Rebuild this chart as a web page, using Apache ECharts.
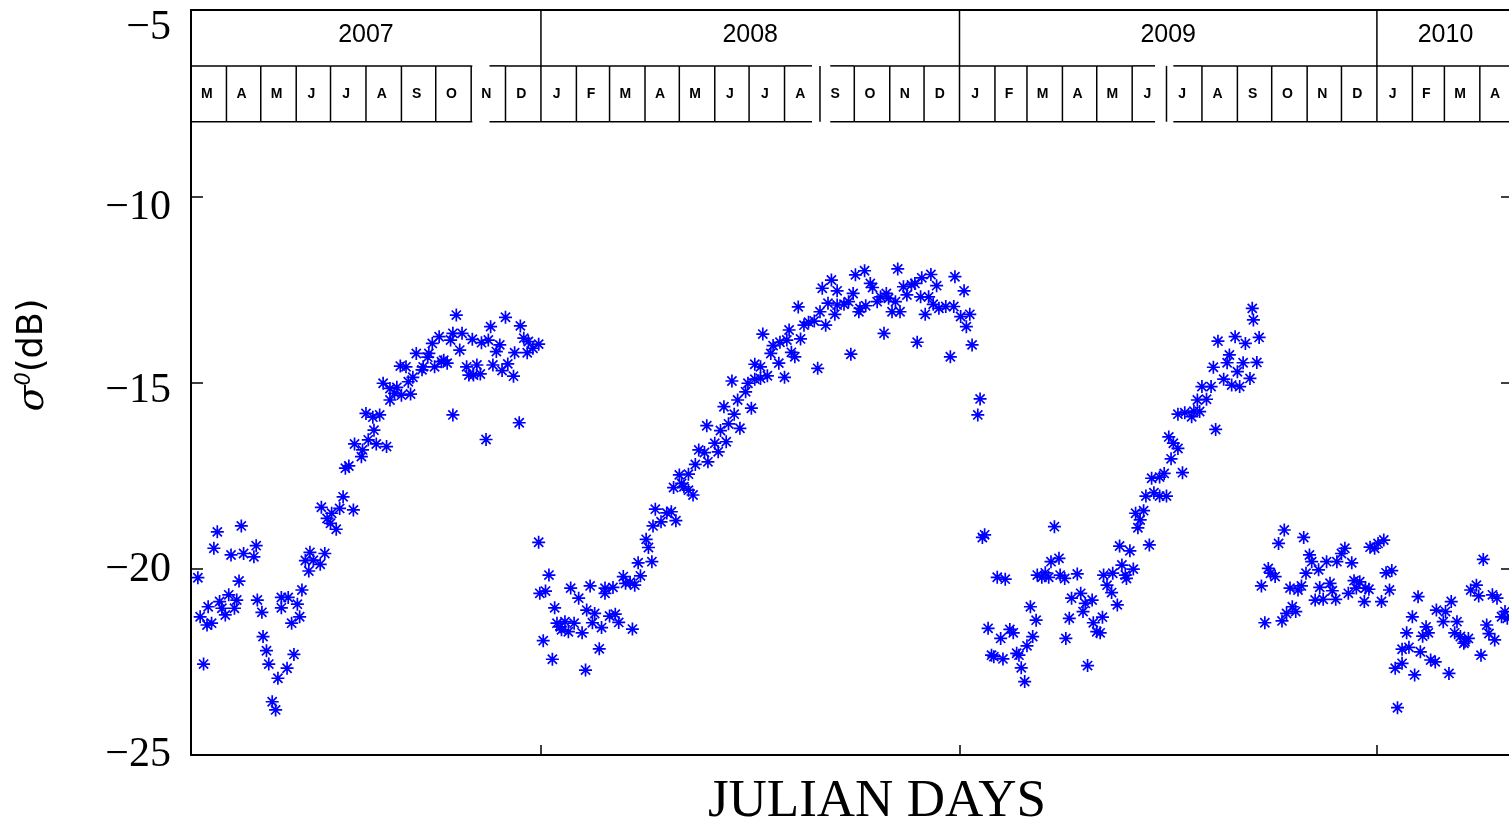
<!DOCTYPE html>
<html>
<head>
<meta charset="utf-8">
<title>sigma0 time series</title>
<script src="https://cdn.jsdelivr.net/npm/echarts@6/dist/echarts.min.js"></script>
<style>
    html, body { margin: 0; padding: 0; background: #fff; }
    #chart { width: 1509px; height: 824px; }
</style>
</head>
<body>
<div id="chart"></div>
<script>
// julian day counted from 1 Jan 2007 (= 0), sigma0 in dB
var season07 = [
    [82,-19.01],[103,-18.85],[79,-19.45],[94,-19.63],[105,-19.59],[116,-19.38],[114,-19.68],[65,-20.24],[101,-20.33],[92,-20.70],
    [84,-20.88],[99,-20.84],[74,-21.02],[86,-21.06],[97,-21.06],[89,-21.24],[67,-21.29],[73,-21.51],[77,-21.46],[117,-20.84],
    [121,-21.17],[70,-22.56],[122,-21.82],[125,-22.20],[127,-22.56],[135,-22.94],[130,-23.57],[133,-23.79],[143,-22.67],[149,-22.30],
    [138,-20.77],[144,-20.77],[138,-21.05],[152,-20.95],[156,-20.57],[154,-21.29],[147,-21.46],[163,-19.56],[159,-19.78],[166,-19.77],
    [176,-19.59],[172,-19.88],[162,-20.06],[173,-18.35],[182,-18.51],[189,-18.38],[201,-18.42],[178,-18.65],[181,-18.78],[186,-18.94],
    [192,-18.07],[194,-17.30],[197,-17.24],[208,-16.99],[209,-16.81],[202,-16.65],[214,-16.54],[221,-16.65],[230,-16.72],[219,-16.28],
    [212,-15.83],[218,-15.93],[224,-15.87],[227,-15.02],[233,-15.16],[239,-15.13],[237,-15.29],[233,-15.47],[243,-15.34],[251,-15.31],
    [249,-14.98],[253,-14.86],[242,-14.56],[247,-14.58],[261,-14.66],[262,-14.58],[256,-14.22],[267,-14.22],[266,-14.32],[270,-13.95],
    [276,-13.77],[272,-14.58],[278,-14.44],[283,-14.48],[280,-14.40],[286,-13.86],[288,-13.68],[296,-13.68],[291,-13.19],[294,-14.13],
    [305,-13.84],[313,-13.93],[319,-13.86],[329,-13.99],[326,-14.17],[321,-13.50],[334,-13.25],[347,-13.48],[350,-13.81],[354,-13.90],
    [358,-14.08],[342,-14.20],[353,-14.20],[300,-14.58],[309,-14.53],[302,-14.80],[312,-14.77],[306,-14.80],[323,-14.53],[336,-14.50],
    [331,-14.68],[341,-14.83],[288,-15.87],[317,-16.53],[346,-16.08],[363,-13.97]
];
var season08 = [
    [363,-19.29],[372,-20.17],[364,-20.66],[369,-20.60],[391,-20.52],[408,-20.46],[398,-20.79],[377,-21.05],[405,-21.11],[412,-21.20],
    [379,-21.46],[386,-21.42],[394,-21.46],[383,-21.64],[389,-21.69],[382,-21.56],[401,-21.72],[410,-21.45],[418,-21.58],[425,-21.27],
    [430,-21.22],[433,-21.44],[445,-21.62],[367,-21.93],[375,-22.43],[416,-22.15],[404,-22.72],[421,-20.52],[421,-20.66],[428,-20.50],
    [437,-20.21],[439,-20.39],[443,-20.36],[447,-20.44],[452,-20.19],[450,-19.84],[462,-19.81],[457,-19.21],[459,-19.43],[465,-18.40],
    [463,-18.85],[470,-18.74],[475,-18.50],[479,-18.47],[483,-18.71],[481,-17.82],[486,-17.48],[490,-17.80],[494,-17.46],[498,-18.02],
    [494,-17.89],[488,-17.71],[500,-17.20],[503,-16.81],[508,-16.88],[511,-17.13],[517,-16.63],[520,-16.86],[527,-16.59],[510,-16.16],
    [522,-16.29],[529,-16.11],[539,-16.23],[525,-15.65],[534,-15.85],[537,-15.47],[549,-15.69],[532,-14.96],[544,-15.25],[546,-15.02],
    [552,-14.91],[557,-14.89],[552,-14.51],[557,-14.58],[559,-13.70],[563,-14.82],[573,-14.48],[578,-14.86],[607,-14.62],[566,-14.22],
    [568,-14.01],[574,-13.92],[580,-13.86],[584,-14.19],[587,-14.31],[592,-13.83],[582,-13.59],[595,-13.46],[599,-13.38],[604,-13.35],
    [614,-13.46],[590,-12.97],[609,-13.10],[616,-12.87],[622,-13.17],[624,-12.92],[630,-12.90],[634,-12.83],[638,-12.61],[624,-12.54],
    [611,-12.47],[619,-12.25],[640,-12.11],[648,-12.00],[644,-13.01],[643,-13.10],[649,-12.94],[653,-12.34],[655,-12.45],[659,-12.83],
    [662,-12.70],[667,-12.61],[669,-12.74],[675,-12.83],[672,-13.10],[679,-13.10],[677,-11.95],[682,-12.43],[685,-12.65],[689,-12.38],
    [692,-12.34],[698,-12.19],[706,-12.10],[697,-12.70],[704,-12.70],[711,-12.40],[708,-12.90],[701,-13.17],[713,-13.01],[719,-12.96],
    [726,-12.96],[727,-12.16],[735,-12.54],[732,-13.23],[740,-13.17],[737,-13.50],[742,-13.99],[723,-14.31],[694,-13.92],[665,-13.68],
    [636,-14.24],[749,-15.44],[747,-15.87]
];
var season09 = [
    [753,-19.09],[751,-19.16],[814,-18.87],[764,-20.23],[771,-20.28],[799,-20.17],[806,-20.11],[809,-20.23],[803,-20.23],[811,-19.81],
    [818,-19.72],[819,-20.17],[823,-20.26],[834,-20.14],[756,-21.60],[767,-21.87],[775,-21.63],[778,-21.72],[759,-22.32],[761,-22.36],
    [769,-22.42],[781,-22.27],[783,-22.32],[785,-22.66],[788,-23.03],[793,-21.02],[798,-21.38],[795,-21.82],[790,-22.07],[824,-21.87],
    [827,-21.33],[829,-20.79],[837,-20.66],[841,-20.93],[847,-20.84],[839,-21.15],[843,-22.60],[848,-21.45],[851,-21.69],[854,-21.72],
    [856,-21.30],[860,-20.44],[864,-20.64],[869,-20.97],[857,-20.17],[865,-20.12],[873,-19.90],[876,-20.17],[877,-20.26],[883,-20.01],
    [871,-19.39],[880,-19.52],[897,-19.36],[885,-18.51],[892,-18.44],[889,-18.69],[887,-18.90],[894,-18.05],[901,-17.96],[906,-18.05],
    [912,-18.05],[899,-17.57],[906,-17.54],[910,-17.44],[926,-17.42],[916,-17.05],[914,-16.46],[918,-16.63],[922,-16.77],[922,-15.85],
    [928,-15.81],[934,-15.92],[936,-15.77],[941,-15.78],[955,-16.26],[939,-15.47],[947,-15.45],[943,-15.11],[951,-15.11],[953,-14.59],
    [962,-14.91],[969,-15.07],[976,-15.11],[985,-14.89],[965,-14.47],[967,-14.26],[974,-14.71],[979,-14.47],[991,-14.46],[957,-13.89],
    [972,-13.77],[981,-13.95],[993,-13.79],[987,-13.01],[988,-13.32]
];
var season10 = [
    [1001,-19.99],[1003,-20.12],[995,-20.46],[998,-21.45],[1015,-18.96],[1032,-19.16],[1010,-19.32],[1007,-20.21],[1020,-20.52],[1027,-20.57],
    [1030,-20.46],[1037,-19.63],[1039,-19.81],[1045,-20.03],[1034,-20.12],[1052,-19.81],[1061,-19.81],[1065,-19.59],[1068,-19.45],[1074,-19.84],
    [1046,-20.50],[1055,-20.39],[1057,-20.59],[1042,-20.84],[1049,-20.82],[1060,-20.82],[1071,-20.66],[1076,-20.32],[1081,-20.35],[1078,-20.52],
    [1086,-20.52],[1089,-20.55],[1085,-20.88],[1100,-20.88],[1022,-21.02],[1017,-21.20],[1025,-21.15],[1013,-21.40],[1090,-19.42],[1097,-19.32],
    [1102,-19.23],[1094,-19.45],[1104,-20.11],[1109,-20.05],[1107,-20.57],[1132,-20.75],[1127,-21.29],[1122,-21.72],[1139,-21.56],[1136,-21.81],
    [1141,-21.72],[1118,-22.16],[1124,-22.11],[1134,-22.23],[1118,-22.54],[1112,-22.67],[1143,-22.45],[1147,-22.50],[1129,-22.85],[1159,-22.81],
    [1114,-23.73],[1148,-21.11],[1156,-21.15],[1161,-20.88],[1154,-21.42],[1166,-21.42],[1164,-21.72],[1169,-21.82],[1173,-21.96],[1176,-21.87],
    [1172,-22.00],[1187,-22.32],[1178,-20.57],[1183,-20.44],[1185,-20.73],[1197,-20.70],[1201,-20.79],[1189,-19.75],[1192,-21.51],[1194,-21.74],
    [1199,-21.91],[1205,-21.29],[1208,-21.15],[1210,-21.33]
];

// calendar strip at the top of the plot
var yearLabels = ['2007', '2008', '2009', '2010'];
var yearStarts = [59, 365, 731, 1096];
var yearEnds = [365, 731, 1096, 1216];
var monthLabels = ['M','A','M','J','J','A','S','O','N','D',
    'J','F','M','A','M','J','J','A','S','O','N','D',
    'J','F','M','A','M','J','J','A','S','O','N','D',
    'J','F','M','A'];
var monthStarts = [59,90,120,151,181,212,243,273,304,334,
    365,396,425,456,486,517,547,578,609,639,670,700,
    731,762,790,821,851,882,912,943,974,1004,1035,1065,
    1096,1127,1155,1186];
var stripBreaks = [[305, 320], [602, 618], [902, 918]];   // gaps in the pasted strip

var X_MIN = 59, X_MAX = 1215;
var STRIP_TOP = -5, STRIP_MID = -6.5, STRIP_BOT = -8;

var labelShift = {'-5': 36, '-10': 24, '-15': 16, '-20': 2, '-25': 0};

function cutBreaks(s, e) {
    var parts = [[s, e]];
    stripBreaks.forEach(function (g) {
        var next = [];
        parts.forEach(function (p) {
            if (g[1] <= p[0] || g[0] >= p[1]) { next.push(p); return; }
            if (g[0] > p[0]) next.push([p[0], g[0]]);
            if (g[1] < p[1]) next.push([g[1], p[1]]);
        });
        parts = next;
    });
    return parts;
}

var lineStyle = {stroke: '#000', lineWidth: 1.5};

function renderYear(params, api) {
    var a = api.coord([api.value(0), STRIP_TOP]);
    var b = api.coord([api.value(1), STRIP_MID]);
    return {
        type: 'group',
        children: [
            {type: 'line', shape: {x1: a[0], y1: a[1], x2: a[0], y2: b[1]}, style: lineStyle},
            {type: 'text', x: (a[0] + b[0]) / 2, y: (a[1] + b[1]) / 2 - 3,
                style: {text: yearLabels[params.dataIndex], font: '25px "Liberation Sans"', fill: '#000',
                    align: 'center', verticalAlign: 'middle'}}
        ]
    };
}

function renderMonth(params, api) {
    var s = api.value(0), e = api.value(1);
    var a = api.coord([s, STRIP_MID]);
    var b = api.coord([e, STRIP_BOT]);
    var children = [
        {type: 'line', shape: {x1: a[0], y1: a[1], x2: a[0], y2: b[1]}, style: lineStyle}
    ];
    cutBreaks(s, e).forEach(function (p) {
        var x1 = api.coord([p[0], STRIP_MID])[0], x2 = api.coord([p[1], STRIP_MID])[0];
        children.push({type: 'line', shape: {x1: x1, y1: a[1], x2: x2, y2: a[1]}, style: lineStyle});
        children.push({type: 'line', shape: {x1: x1, y1: b[1], x2: x2, y2: b[1]}, style: lineStyle});
    });
    children.push({type: 'text', x: (a[0] + b[0]) / 2 - 2, y: (a[1] + b[1]) / 2,
        style: {text: monthLabels[params.dataIndex], font: 'bold 14px "Liberation Sans"', fill: '#000',
            align: 'center', verticalAlign: 'middle'}});
    return {type: 'group', children: children};
}

var points = season07.concat(season08, season09, season10);

var yearData = yearStarts.map(function (s, i) { return [s, yearEnds[i], STRIP_TOP]; });
var monthData = monthStarts.map(function (s, i) {
    return [s, i + 1 < monthStarts.length ? monthStarts[i + 1] : 1216, STRIP_MID];
});

var rich = {};
Object.keys(labelShift).forEach(function (k) {
    rich['s' + labelShift[k]] = {
        fontFamily: '"Liberation Serif"', fontSize: 42, color: '#000',
        padding: [labelShift[k], 0, 0, 0]
    };
});

var chart = echarts.init(document.getElementById('chart'));
chart.setOption({
    animation: false,
    backgroundColor: '#fff',
    grid: {left: 191, top: 10, width: 1322, height: 745, outerBoundsMode: 'none', containLabel: false},
    xAxis: [{
        type: 'value', min: X_MIN, max: X_MAX, position: 'bottom',
        axisLine: {lineStyle: {color: '#000', width: 2}},
        axisTick: {inside: true, length: 10, customValues: [365, 731, 1096], lineStyle: {color: '#000', width: 1.5}},
        axisLabel: {show: false},
        splitLine: {show: false}
    }, {
        type: 'value', min: X_MIN, max: X_MAX, position: 'top',
        axisLine: {show: true, lineStyle: {color: '#000', width: 2}},
        axisTick: {show: false}, axisLabel: {show: false}, splitLine: {show: false}
    }],
    yAxis: [{
        type: 'value', min: -25, max: -5, interval: 5, position: 'left',
        axisLine: {show: true, lineStyle: {color: '#000', width: 2}},
        axisTick: {show: true, inside: true, length: 12, lineStyle: {color: '#000', width: 1.5}},
        axisLabel: {
            margin: 20, rich: rich,
            formatter: function (v) { return '{s' + labelShift[String(v)] + '|\u2212' + Math.abs(v) + '}'; }
        },
        splitLine: {show: false}
    }, {
        type: 'value', min: -25, max: -5, interval: 5, position: 'right',
        axisLine: {show: true, lineStyle: {color: '#000', width: 2}},
        axisTick: {show: true, inside: true, length: 12, lineStyle: {color: '#000', width: 1.5}},
        axisLabel: {show: false},
        splitLine: {show: false}
    }],
    graphic: [{
        type: 'text', x: 877, y: 802,
        style: {text: 'JULIAN DAYS', font: '53px "Liberation Serif"', fill: '#000', align: 'center', verticalAlign: 'middle'}
    }, {
        type: 'text', x: 33, y: 355, rotation: Math.PI / 2,
        style: {
            text: '{s|\u03c3}{o|0}{t|(dB)}', align: 'center', verticalAlign: 'middle', fill: '#000',
            rich: {
                s: {font: 'italic 38px "DejaVu Serif"', fill: '#000'},
                o: {font: 'italic 21px "DejaVu Sans"', fill: '#000', verticalAlign: 'top'},
                t: {font: '35px "DejaVu Sans"', fill: '#000'}
            }
        }
    }],
    series: [{
        name: 'sigma0',
        type: 'scatter',
        data: points,
        symbol: 'path://M0,-6L0,6M-6,0L6,0M-4.24,-4.24L4.24,4.24M-4.24,4.24L4.24,-4.24',
        symbolSize: 13,
        itemStyle: {color: 'none', borderColor: '#0000ff', borderWidth: 1.7, opacity: 1},
        emphasis: {disabled: true}
    }, {
        name: 'years',
        type: 'custom',
        renderItem: renderYear,
        data: yearData,
        encode: {x: [0, 1], y: 2},
        clip: true,
        silent: true
    }, {
        name: 'months',
        type: 'custom',
        renderItem: renderMonth,
        data: monthData,
        encode: {x: [0, 1], y: 2},
        clip: true,
        silent: true
    }]
});
</script>
</body>
</html>
